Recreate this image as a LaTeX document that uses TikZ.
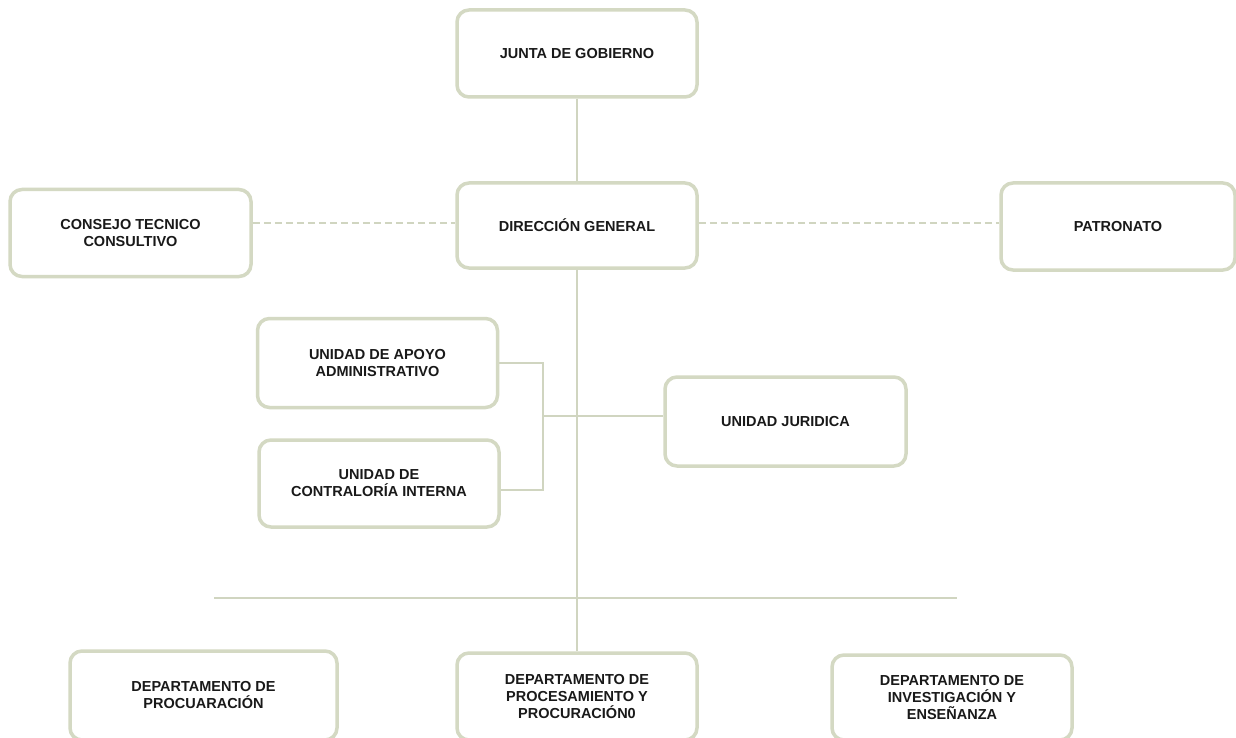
\documentclass[tikz,border=0pt]{standalone}
\usepackage{fontspec}
\setmainfont{Liberation Sans}
\definecolor{boxline}{RGB}{212,217,195}
\definecolor{conn}{RGB}{208,213,192}
\tikzset{
  orgbox/.style={draw=boxline, line width=3.5pt, rounded corners=12pt, fill=white,
    align=center, inner sep=0pt, font=\bfseries\fontsize{14.5}{17}\selectfont, text=black!90},
  conline/.style={draw=conn, line width=2.5pt},
  dashline/.style={draw=conn, line width=2.5pt, dash pattern=on 7pt off 4pt}
}
\begin{document}
\begin{tikzpicture}[x=1pt,y=-1pt]
\useasboundingbox[fill=white] (0,0) rectangle (1236,738);
% boxes
\node[orgbox, minimum width=240pt, minimum height=87pt] (junta) at (577,53.5) {JUNTA DE GOBIERNO};
\node[orgbox, minimum width=240pt, minimum height=85pt] (dir) at (577,225.5) {DIRECCIÓN GENERAL};
\node[orgbox, minimum width=241pt, minimum height=87pt] (cons) at (130.5,233) {CONSEJO TECNICO\\CONSULTIVO};
\node[orgbox, minimum width=234pt, minimum height=87pt] (patr) at (1118,226.5) {PATRONATO};
\node[orgbox, minimum width=240pt, minimum height=89pt] (apoyo) at (377.5,363) {UNIDAD DE APOYO\\ADMINISTRATIVO};
\node[orgbox, minimum width=240pt, minimum height=87pt] (contra) at (379,483.5) {UNIDAD DE\\CONTRALORÍA INTERNA};
\node[orgbox, minimum width=241pt, minimum height=89pt] (jur) at (785.5,421.5) {UNIDAD JURIDICA};
% connectors
\coordinate (bk) at (543,416);
\coordinate (hl) at (214,598);
\coordinate (hr) at (957,598);
\draw[conline] (junta.south) -- (dir.north);
\draw[dashline] ([yshift=2.5pt]cons.east |- dir.west) -- ([yshift=2.5pt]dir.west);
\draw[dashline] ([yshift=2.5pt]dir.east) -- ([yshift=2.5pt]patr.west |- dir.east);
\draw[conline] (hl) -- (hr);
\draw[conline] (apoyo.east) -| (bk) |- ([yshift=-6.5pt]contra.east);
\draw[conline] (bk) -- ([yshift=5.5pt]jur.west);
% bottom boxes
\node[orgbox, minimum width=267pt, minimum height=89pt] (dproc) at (203.5,695.5) {DEPARTAMENTO DE\\PROCUARACIÓN};
\node[orgbox, minimum width=240pt, minimum height=87pt] (dprocs) at (577,696.5) {DEPARTAMENTO DE\\PROCESAMIENTO Y\\PROCURACIÓN0};
\node[orgbox, minimum width=240pt, minimum height=85pt] (dinv) at (952,697.5) {DEPARTAMENTO DE\\INVESTIGACIÓN Y\\ENSEÑANZA};
\draw[conline] (dir.south) -- (dprocs.north);
\end{tikzpicture}
\end{document}
